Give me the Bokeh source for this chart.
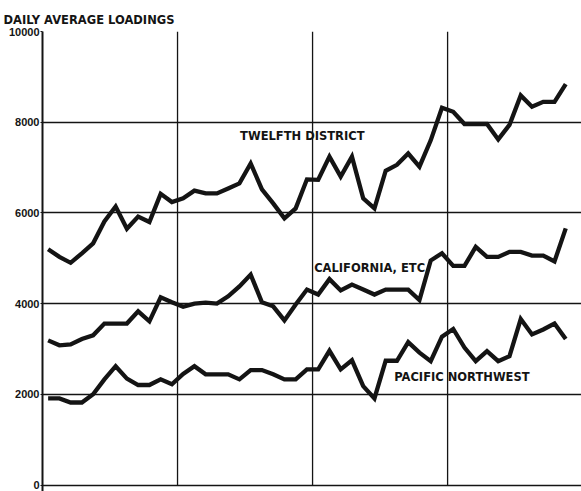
from bokeh.plotting import figure
from bokeh.models import Range1d, FixedTicker, Label
from bokeh.embed import file_html
from bokeh.resources import INLINE

# Monthly daily-average loadings, 47 months
month_index = list(range(47))

twelfth_district = [5200, 5030, 4900, 5110, 5330, 5810, 6140, 5650, 5920, 5800, 6420, 6240,
                    6320, 6490, 6430, 6430, 6540, 6650, 7090, 6520, 6210, 5880, 6100, 6740,
                    6730, 7240, 6800, 7240, 6320, 6100, 6930, 7060, 7310, 7020, 7600, 8320,
                    8230, 7960, 7960, 7960, 7620, 7940, 8590, 8340, 8450, 8450, 8840]

california_etc = [3190, 3080, 3100, 3220, 3300, 3560, 3560, 3560, 3830, 3610, 4140, 4030,
                  3930, 4000, 4020, 4000, 4160, 4380, 4640, 4030, 3940, 3630, 3980, 4310,
                  4200, 4540, 4290, 4420, 4310, 4200, 4310, 4310, 4310, 4080, 4950, 5110,
                  4830, 4830, 5250, 5030, 5030, 5140, 5140, 5060, 5060, 4930, 5660]

pacific_northwest = [1910, 1910, 1820, 1820, 2000, 2330, 2620, 2345, 2205, 2205, 2330, 2220,
                     2450, 2620, 2440, 2440, 2440, 2330, 2535, 2535, 2440, 2330, 2330, 2550,
                     2550, 2960, 2550, 2750, 2180, 1910, 2740, 2740, 3150, 2920, 2730, 3270,
                     3440, 3030, 2730, 2950, 2730, 2840, 3660, 3320, 3430, 3560, 3220]

y_ticks = [0, 2000, 4000, 6000, 8000, 10000]
year_boundaries = [12, 24, 36]

title_text = "DAILY AVERAGE LOADINGS"
series_labels = ["TWELFTH DISTRICT", "CALIFORNIA, ETC.", "PACIFIC NORTHWEST"]
label_pos = [(17.56, 7700), (24.14, 4785), (31.25, 2380)]

x_vals = [m + 0.5 for m in month_index]

p = figure(width=581, height=491, output_backend="svg", toolbar_location=None,
           x_range=Range1d(0, 47.9), y_range=Range1d(-143, 10000),
           min_border_left=42, min_border_right=0, min_border_top=31, min_border_bottom=0,
           title=title_text)
p.outline_line_color = None
p.background_fill_color = "white"
p.border_fill_color = "white"

ink = "#141414"

p.title.align = "left"
p.title.offset = -39
p.title.standoff = 9
p.title.text_font = "DejaVu Sans"
p.title.text_font_style = "bold"
p.title.text_font_size = "11.5px"
p.title.text_color = ink

# y axis
p.yaxis.ticker = FixedTicker(ticks=y_ticks)
p.yaxis.axis_line_color = ink
p.yaxis.axis_line_width = 2
p.yaxis.major_tick_out = 2
p.yaxis.major_tick_in = 0
p.yaxis.minor_tick_out = 0
p.yaxis.minor_tick_in = 0
p.yaxis.major_tick_line_color = ink
p.yaxis.major_label_standoff = 1
p.yaxis.major_label_text_font = "Liberation Sans"
p.yaxis.major_label_text_font_style = "bold"
p.yaxis.major_label_text_font_size = "11px"
p.yaxis.major_label_text_color = ink

p.xaxis.visible = False

# horizontal grid (the zero line is drawn as a grid line)
p.xgrid.visible = False
p.ygrid.ticker = FixedTicker(ticks=y_ticks)
p.ygrid.grid_line_color = ink
p.ygrid.grid_line_width = 1.3

# vertical year dividers, from 0 to the top value
p.segment(x0=year_boundaries, y0=[y_ticks[0]] * len(year_boundaries),
          x1=year_boundaries, y1=[y_ticks[-1]] * len(year_boundaries),
          line_color=ink, line_width=1.3)

for series in (twelfth_district, california_etc, pacific_northwest):
    p.line(x_vals, series, line_color=ink, line_width=4.3, line_join="miter")

for text, (lx, ly) in zip(series_labels, label_pos):
    p.add_layout(Label(x=lx, y=ly, text=text, text_font="DejaVu Sans", text_font_style="bold",
                       text_font_size="11.5px", text_color=ink, text_baseline="middle",
                       text_align="left"))

open("out.html", "w").write(file_html(p, INLINE))
